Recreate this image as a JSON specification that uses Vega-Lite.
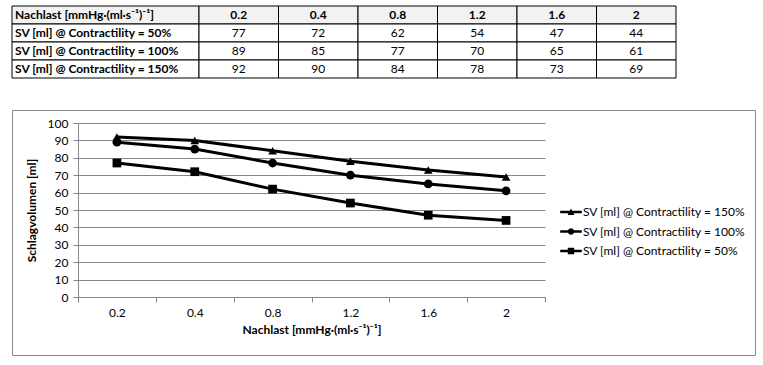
{
  "$schema": "https://vega.github.io/schema/vega-lite/v6.json",
  "padding": {"left": 11, "top": 5, "right": 5, "bottom": 5},
  "bounds": "full",
  "spacing": 30,
  "config": {"font": "Lato", "view": {"stroke": null}},
  "datasets": {
    "sv": [
      {"nachlast": "0.2", "series": "SV [ml] @ Contractility = 50%", "sv": 77},
      {"nachlast": "0.4", "series": "SV [ml] @ Contractility = 50%", "sv": 72},
      {"nachlast": "0.8", "series": "SV [ml] @ Contractility = 50%", "sv": 62},
      {"nachlast": "1.2", "series": "SV [ml] @ Contractility = 50%", "sv": 54},
      {"nachlast": "1.6", "series": "SV [ml] @ Contractility = 50%", "sv": 47},
      {"nachlast": "2", "series": "SV [ml] @ Contractility = 50%", "sv": 44},
      {"nachlast": "0.2", "series": "SV [ml] @ Contractility = 100%", "sv": 89},
      {"nachlast": "0.4", "series": "SV [ml] @ Contractility = 100%", "sv": 85},
      {"nachlast": "0.8", "series": "SV [ml] @ Contractility = 100%", "sv": 77},
      {"nachlast": "1.2", "series": "SV [ml] @ Contractility = 100%", "sv": 70},
      {"nachlast": "1.6", "series": "SV [ml] @ Contractility = 100%", "sv": 65},
      {"nachlast": "2", "series": "SV [ml] @ Contractility = 100%", "sv": 61},
      {"nachlast": "0.2", "series": "SV [ml] @ Contractility = 150%", "sv": 92},
      {"nachlast": "0.4", "series": "SV [ml] @ Contractility = 150%", "sv": 90},
      {"nachlast": "0.8", "series": "SV [ml] @ Contractility = 150%", "sv": 84},
      {"nachlast": "1.2", "series": "SV [ml] @ Contractility = 150%", "sv": 78},
      {"nachlast": "1.6", "series": "SV [ml] @ Contractility = 150%", "sv": 73},
      {"nachlast": "2", "series": "SV [ml] @ Contractility = 150%", "sv": 69}
    ]
  },
  "vconcat": [
    {
      "spacing": 0,
      "bounds": "flush",
      "hconcat": [
        {
          "width": 187,
          "height": 72,
          "data": {"name": "sv"},
          "transform": [{"filter": "datum.nachlast === '0.2'"}],
          "encoding": {
            "x": {"datum": "label", "type": "nominal", "scale": {"paddingInner": 0, "paddingOuter": 0}, "axis": null}
          },
          "layer": [
            {
              "transform": [{"filter": "datum.series === 'SV [ml] @ Contractility = 50%'"}],
              "mark": {"type": "rect", "fill": "#f2f2f2", "stroke": "black", "strokeWidth": 1},
              "encoding": {
                "y": {"datum": "Nachlast [mmHg·(ml·s⁻¹)⁻¹]", "type": "ordinal", "scale": {"domain": ["Nachlast [mmHg·(ml·s⁻¹)⁻¹]", "SV [ml] @ Contractility = 50%", "SV [ml] @ Contractility = 100%", "SV [ml] @ Contractility = 150%"], "paddingInner": 0, "paddingOuter": 0}, "axis": null}
              }
            },
            {
              "mark": {"type": "rect", "fill": "white", "stroke": "black", "strokeWidth": 1},
              "encoding": {
                "y": {"field": "series", "type": "ordinal", "scale": {"domain": ["Nachlast [mmHg·(ml·s⁻¹)⁻¹]", "SV [ml] @ Contractility = 50%", "SV [ml] @ Contractility = 100%", "SV [ml] @ Contractility = 150%"], "paddingInner": 0, "paddingOuter": 0}, "axis": null}
              }
            },
            {
              "transform": [{"filter": "datum.series === 'SV [ml] @ Contractility = 50%'"}],
              "mark": {"type": "text", "align": "left", "dx": 3, "fontSize": 12, "fontWeight": "bold", "color": "black"},
              "encoding": {
                "x": {"datum": "label", "type": "nominal", "bandPosition": 0},
                "y": {"datum": "Nachlast [mmHg·(ml·s⁻¹)⁻¹]", "type": "ordinal"},
                "text": {"value": "Nachlast [mmHg·(ml·s⁻¹)⁻¹]"}
              }
            },
            {
              "mark": {"type": "text", "align": "left", "dx": 3, "fontSize": 12, "fontWeight": "bold", "color": "black"},
              "encoding": {
                "x": {"datum": "label", "type": "nominal", "bandPosition": 0},
                "y": {"field": "series", "type": "ordinal"},
                "text": {"field": "series"}
              }
            }
          ]
        },
        {
          "width": 477,
          "height": 72,
          "data": {"name": "sv"},
          "encoding": {
            "x": {"field": "nachlast", "type": "ordinal", "scale": {"domain": ["0.2", "0.4", "0.8", "1.2", "1.6", "2"], "paddingInner": 0, "paddingOuter": 0}, "axis": null}
          },
          "layer": [
            {
              "transform": [{"filter": "datum.series === 'SV [ml] @ Contractility = 50%'"}],
              "mark": {"type": "rect", "fill": "#f2f2f2", "stroke": "black", "strokeWidth": 1},
              "encoding": {
                "y": {"datum": "Nachlast [mmHg·(ml·s⁻¹)⁻¹]", "type": "ordinal", "scale": {"domain": ["Nachlast [mmHg·(ml·s⁻¹)⁻¹]", "SV [ml] @ Contractility = 50%", "SV [ml] @ Contractility = 100%", "SV [ml] @ Contractility = 150%"], "paddingInner": 0, "paddingOuter": 0}, "axis": null}
              }
            },
            {
              "mark": {"type": "rect", "fill": "white", "stroke": "black", "strokeWidth": 1},
              "encoding": {
                "y": {"field": "series", "type": "ordinal", "scale": {"domain": ["Nachlast [mmHg·(ml·s⁻¹)⁻¹]", "SV [ml] @ Contractility = 50%", "SV [ml] @ Contractility = 100%", "SV [ml] @ Contractility = 150%"], "paddingInner": 0, "paddingOuter": 0}, "axis": null}
              }
            },
            {
              "transform": [{"filter": "datum.series === 'SV [ml] @ Contractility = 50%'"}],
              "mark": {"type": "text", "fontSize": 12, "fontWeight": "bold", "color": "black"},
              "encoding": {
                "y": {"datum": "Nachlast [mmHg·(ml·s⁻¹)⁻¹]", "type": "ordinal"},
                "text": {"field": "nachlast"}
              }
            },
            {
              "mark": {"type": "text", "fontSize": 12, "color": "black"},
              "encoding": {
                "y": {"field": "series", "type": "ordinal"},
                "text": {"field": "sv"}
              }
            }
          ]
        }
      ]
    },
    {
      "width": 743,
      "height": 245,
      "view": {"stroke": "#868686", "strokeWidth": 1},
      "data": {"name": "sv"},
      "encoding": {
        "x": {
          "field": "nachlast", "type": "ordinal",
          "scale": {"domain": ["0.2", "0.4", "0.8", "1.2", "1.6", "2"], "range": [66, 533], "paddingInner": 0, "paddingOuter": 0},
          "axis": {
            "orient": "bottom", "offset": -58, "tickBand": "extent", "labelAngle": 0,
            "domainColor": "#868686", "tickColor": "#868686", "tickSize": 5,
            "labelFontSize": 12, "labelColor": "black", "labelPadding": 5,
            "title": "Nachlast [mmHg·(ml·s⁻¹)⁻¹]", "titleFontSize": 12, "titleFontWeight": "bold", "titleColor": "black", "titlePadding": 6,
            "grid": false
          }
        },
        "y": {
          "field": "sv", "type": "quantitative",
          "scale": {"domain": [0, 100], "range": [187, 13], "nice": false},
          "axis": {
            "offset": -66, "values": [0, 10, 20, 30, 40, 50, 60, 70, 80, 90, 100],
            "grid": true, "gridColor": "#868686", "gridOpacity": 1,
            "domain": true, "domainColor": "#868686", "tickColor": "#868686", "tickSize": 5,
            "labelFontSize": 12, "labelColor": "black", "labelPadding": 5,
            "title": "Schlagvolumen [ml]", "titleFontSize": 12, "titleFontWeight": "bold", "titleColor": "black", "titlePadding": 9
          }
        }
      },
      "layer": [
        {
          "mark": {"type": "line", "color": "black", "strokeWidth": 3},
          "encoding": {"detail": {"field": "series", "type": "nominal"}}
        },
        {
          "mark": {"type": "point", "filled": true, "color": "black", "size": 76, "opacity": 1},
          "encoding": {
            "shape": {
              "field": "series", "type": "nominal",
              "scale": {"domain": ["SV [ml] @ Contractility = 150%", "SV [ml] @ Contractility = 100%", "SV [ml] @ Contractility = 50%"], "range": ["triangle-up", "circle", "square"]},
              "legend": null
            }
          }
        },
        {
          "transform": [{"filter": "datum.sv < 0"}],
          "mark": {"type": "point", "filled": true, "color": "black", "opacity": 1},
          "encoding": {
            "shape": {
              "field": "series", "type": "nominal",
              "scale": {
                "domain": ["SV [ml] @ Contractility = 150%", "SV [ml] @ Contractility = 100%", "SV [ml] @ Contractility = 50%"],
                "range": [
                  "M-2.7,-0.3H2.7V0.3H-2.7ZM-0.85,0.75L0,-0.85L0.85,0.75Z",
                  "M-2.7,-0.3H2.7V0.3H-2.7ZM-0.8,0A0.8,0.8,0,1,1,0.8,0A0.8,0.8,0,1,1,-0.8,0Z",
                  "M-2.7,-0.3H2.7V0.3H-2.7ZM-0.8,-0.8H0.8V0.8H-0.8Z"
                ]
              },
              "legend": {
                "orient": "none", "legendX": 553, "legendY": 96, "title": null,
                "padding": 0, "symbolSize": 64, "labelFontSize": 12, "labelColor": "black",
                "labelOffset": 6, "rowPadding": 7.5, "labelLimit": 0,
                "symbolFillColor": "black", "symbolStrokeWidth": 0
              }
            }
          }
        }
      ],
      "resolve": {"scale": {"shape": "independent"}, "legend": {"shape": "independent"}}
    }
  ]
}
